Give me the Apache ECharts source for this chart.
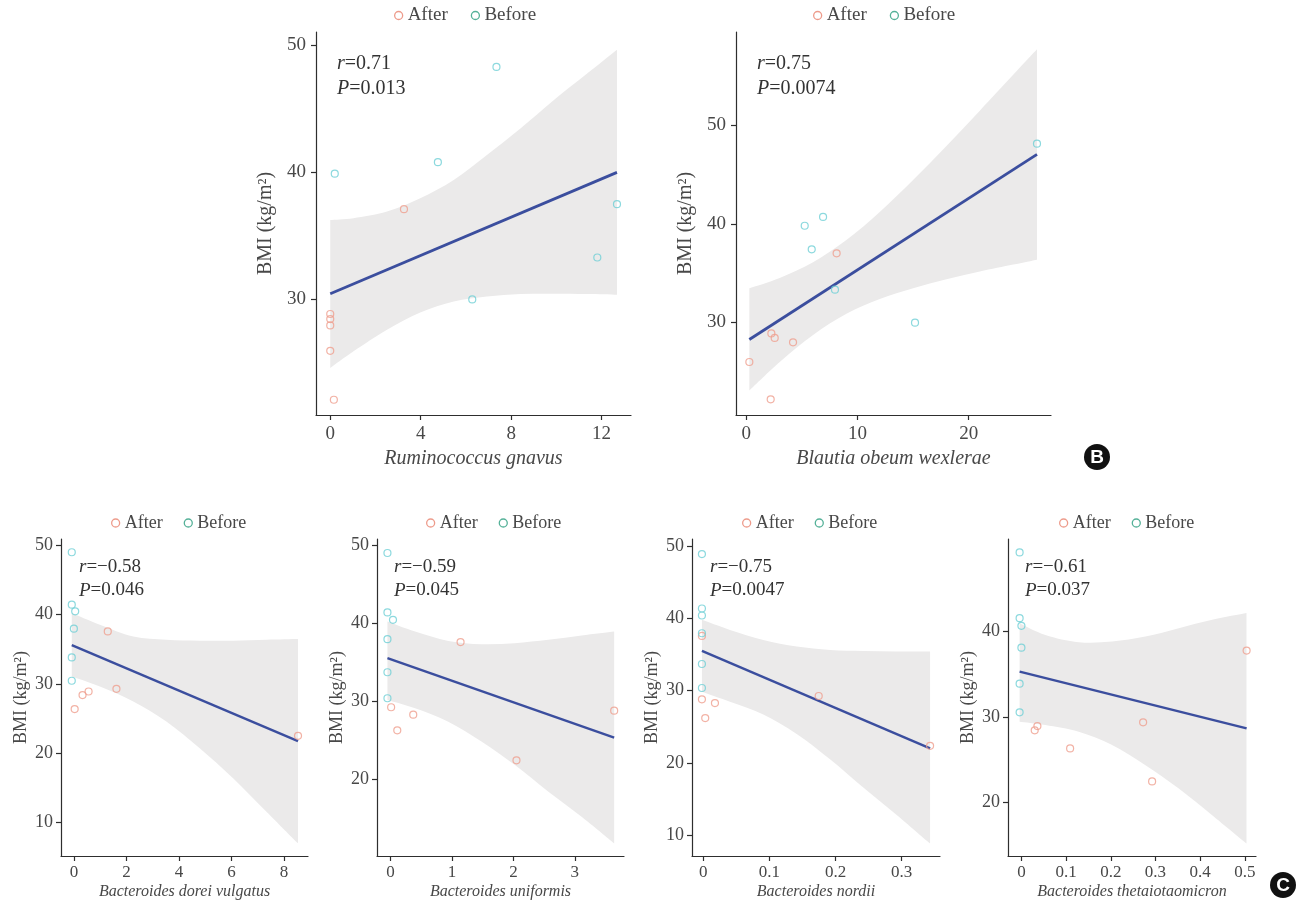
<!DOCTYPE html>
<html><head><meta charset="utf-8">
<script src="https://cdn.jsdelivr.net/npm/echarts@6/dist/echarts.min.js"></script>
<style>html,body{margin:0;padding:0;background:#fff}#c{width:1303px;height:908px}</style>
</head><body><div id="c"></div>
<script>
// ---------- DATA ----------
const legendNames = ['After', 'Before'];
const yTitle = 'BMI (kg/m²)';

// Panel A: Ruminococcus gnavus
const aXName = 'Ruminococcus gnavus';
const aR = '0.71', aP = '0.013';
const aXTicks = [0, 4, 8, 12];
const aYTicks = [30, 40, 50];
const aBeforeX = [7.35, 0.2, 4.76, 12.68, 11.81, 6.28];
const aBeforeY = [48.3, 39.9, 40.8, 37.5, 33.3, 30.0];
const aAfterX = [3.26, 0, 0, 0, 0, 0.16];
const aAfterY = [37.1, 28.85, 28.45, 27.95, 25.95, 22.1];
const aLineX = [0, 12.68];
const aLineY = [30.45, 40.0];
const aBandX = [0, 1.03, 2.51, 3.98, 5.46, 6.93, 8.41, 9.88, 11.36, 12.68];
const aBandUpper = [36.25, 36.39, 36.91, 37.96, 39.4, 41.36, 43.45, 45.68, 47.78, 49.66];
const aBandLower = [24.6, 25.91, 27.61, 28.97, 29.84, 30.23, 30.42, 30.45, 30.42, 30.36];

// Panel B: Blautia obeum wexlerae
const bXName = 'Blautia obeum wexlerae';
const bR = '0.75', bP = '0.0074';
const bXTicks = [0, 10, 20];
const bYTicks = [30, 40, 50];
const bBeforeX = [26.14, 6.9, 5.25, 5.88, 7.97, 15.17];
const bBeforeY = [48.15, 40.7, 39.8, 37.4, 33.3, 29.95];
const bAfterX = [8.12, 2.25, 2.55, 4.2, 0.27, 2.19];
const bAfterY = [37.0, 28.85, 28.4, 27.95, 25.95, 22.15];
const bLineX = [0.27, 26.14];
const bLineY = [28.24, 47.06];
const bBandX = [0.27, 3, 6, 9, 12, 15, 18, 21, 24, 26.14];
const bBandUpper = [33.45, 34.5, 36.1, 38.35, 41.2, 44.45, 47.9, 51.5, 55.15, 57.75];
const bBandLower = [23.05, 25.95, 28.7, 30.85, 32.35, 33.45, 34.35, 35.15, 35.85, 36.35];

// Panel C1: Bacteroides dorei vulgatus
const c1XName = 'Bacteroides dorei vulgatus';
const c1R = '−0.58', c1P = '0.046';
const c1XTicks = [0, 2, 4, 6, 8];
const c1YTicks = [10, 20, 30, 40, 50];
const c1BeforeX = [-0.08, -0.08, 0.05, 0, -0.08, -0.08];
const c1BeforeY = [48.99, 41.43, 40.46, 37.96, 33.82, 30.45];
const c1AfterX = [1.29, 1.62, 0.56, 0.33, 0.03, 8.53];
const c1AfterY = [37.57, 29.29, 28.9, 28.38, 26.36, 22.5];
const c1LineX = [-0.08, 8.53];
const c1LineY = [35.6, 21.73];
const c1BandX = [-0.08, 0.99, 2.26, 3.52, 4.79, 6.06, 7.33, 8.53];
const c1BandUpper = [40.23, 38.54, 36.85, 36.37, 36.23, 36.23, 36.37, 36.47];
const c1BandLower = [31.07, 29.62, 27.46, 24.57, 20.72, 16.39, 11.56, 7.0];

// Panel C2: Bacteroides uniformis
const c2XName = 'Bacteroides uniformis';
const c2R = '−0.59', c2P = '0.045';
const c2XTicks = [0, 1, 2, 3];
const c2YTicks = [20, 30, 40, 50];
const c2BeforeX = [-0.05, -0.05, 0.04, -0.05, -0.05, -0.05];
const c2BeforeY = [49.02, 41.38, 40.44, 37.95, 33.7, 30.36];
const c2AfterX = [1.14, 0.01, 0.37, 0.11, 2.05, 3.64];
const c2AfterY = [37.57, 29.2, 28.25, 26.24, 22.38, 28.76];
const c2LineX = [-0.05, 3.64];
const c2LineY = [35.5, 25.29];
const c2BandX = [-0.05, 0.40, 0.94, 1.48, 2.02, 2.57, 3.11, 3.64];
const c2BandUpper = [40.22, 38.93, 37.73, 37.31, 37.44, 37.86, 38.42, 38.93];
const c2BandLower = [30.14, 29.07, 27.35, 24.8, 21.8, 18.34, 15.12, 11.7];

// Panel C3: Bacteroides nordii
const c3XName = 'Bacteroides nordii';
const c3R = '−0.75', c3P = '0.0047';
const c3XTicks = [0, 0.1, 0.2, 0.3];
const c3YTicks = [10, 20, 30, 40, 50];
const c3BeforeX = [-0.002, -0.002, -0.002, -0.002, -0.002, -0.002];
const c3BeforeY = [48.87, 41.35, 40.38, 37.93, 33.68, 30.36];
const c3AfterX = [-0.002, 0.1746, -0.002, 0.0177, 0.003, 0.343];
const c3AfterY = [37.56, 29.25, 28.79, 28.28, 26.2, 22.37];
const c3LineX = [-0.002, 0.343];
const c3LineY = [35.48, 22.0];
const c3BandX = [-0.002, 0.0404, 0.0908, 0.1413, 0.1917, 0.242, 0.2926, 0.343];
const c3BandUpper = [39.78, 38.39, 37.0, 36.08, 35.62, 35.48, 35.42, 35.39];
const c3BandLower = [29.85, 28.46, 26.7, 24.0, 20.5, 16.6, 12.8, 8.85];

// Panel C4: Bacteroides thetaiotaomicron
const c4XName = 'Bacteroides thetaiotaomicron';
const c4R = '−0.61', c4P = '0.037';
const c4XTicks = [0, 0.1, 0.2, 0.3, 0.4, 0.5];
const c4YTicks = [20, 30, 40];
const c4BeforeX = [-0.004, -0.004, 0, 0, -0.004, -0.004];
const c4BeforeY = [49.26, 41.57, 40.67, 38.12, 33.9, 30.55];
const c4AfterX = [0.504, 0.2724, 0.0358, 0.0298, 0.109, 0.2925];
const c4AfterY = [37.77, 29.38, 28.94, 28.44, 26.33, 22.46];
const c4LineX = [-0.004, 0.504];
const c4LineY = [35.31, 28.68];
const c4BandX = [-0.004, 0.0537, 0.1283, 0.203, 0.2776, 0.3522, 0.4269, 0.5037];
const c4BandUpper = [40.98, 39.61, 38.76, 38.83, 39.41, 40.4, 41.37, 42.16];
const c4BandLower = [29.45, 29.06, 28.28, 26.72, 24.37, 21.64, 18.51, 15.2];

// ---------- STYLE / LAYOUT ----------
const SERIF = '"Liberation Serif", "Times New Roman", serif';
const COL_AFTER = '#EF9F8E', COL_BEFORE = '#6FD0D6';
const LEG_AFTER = '#E8826E', LEG_BEFORE = '#2A9D7E';
const BAND = '#ebeaea', LINE = '#3B4E9E';
const TXT = '#484848', AXC = '#2e2e2e';

const zip = (xs, ys) => xs.map((x, i) => [x, ys[i]]);

// smooth path through screen points (Catmull-Rom as cubic Bezier), drawing aid only
function smoothSeg(pts, start) {
  let d = start ? 'M' + pts[0][0] + ',' + pts[0][1] : 'L' + pts[0][0] + ',' + pts[0][1];
  for (let k = 0; k < pts.length - 1; k++) {
    const p0 = pts[Math.max(k - 1, 0)], p1 = pts[k], p2 = pts[k + 1], p3 = pts[Math.min(k + 2, pts.length - 1)];
    const c1 = [p1[0] + (p2[0] - p0[0]) / 6, p1[1] + (p2[1] - p0[1]) / 6];
    const c2 = [p2[0] - (p3[0] - p1[0]) / 6, p2[1] - (p3[1] - p1[1]) / 6];
    d += 'C' + c1[0] + ',' + c1[1] + ' ' + c2[0] + ',' + c2[1] + ' ' + p2[0] + ',' + p2[1];
  }
  return d;
}

const panels = [
  {grid:{left:316,top:32,width:315,height:383}, xMin:-0.63, xMax:13.3, yMin:20.9, yMax:51.05,
   xTicks:aXTicks, yTicks:aYTicks, xName:aXName, r:aR, p:aP, big:true,
   bx:aBeforeX, by:aBeforeY, ax:aAfterX, ay:aAfterY, lx:aLineX, ly:aLineY, bandX:aBandX, up:aBandUpper, lo:aBandLower,
   ann:[337, 63], leg:[394, 6]},
  {grid:{left:736,top:32,width:315,height:383}, xMin:-0.93, xMax:27.4, yMin:20.56, yMax:59.5,
   xTicks:bXTicks, yTicks:bYTicks, xName:bXName, r:bR, p:bP, big:true,
   bx:bBeforeX, by:bBeforeY, ax:bAfterX, ay:bAfterY, lx:bLineX, ly:bLineY, bandX:bBandX, up:bBandUpper, lo:bBandLower,
   ann:[757, 63], leg:[813, 6]},
  {grid:{left:61,top:539,width:247,height:317}, xMin:-0.49, xMax:8.91, yMin:5.17, yMax:50.9,
   xTicks:c1XTicks, yTicks:c1YTicks, xName:c1XName, r:c1R, p:c1P, big:false,
   bx:c1BeforeX, by:c1BeforeY, ax:c1AfterX, ay:c1AfterY, lx:c1LineX, ly:c1LineY, bandX:c1BandX, up:c1BandUpper, lo:c1BandLower,
   ann:[79, 566], leg:[111, 514]},
  {grid:{left:377,top:539,width:247,height:317}, xMin:-0.22, xMax:3.80, yMin:10.09, yMax:50.82,
   xTicks:c2XTicks, yTicks:c2YTicks, xName:c2XName, r:c2R, p:c2P, big:false,
   bx:c2BeforeX, by:c2BeforeY, ax:c2AfterX, ay:c2AfterY, lx:c2LineX, ly:c2LineY, bandX:c2BandX, up:c2BandUpper, lo:c2BandLower,
   ann:[394, 566], leg:[426, 514]},
  {grid:{left:692,top:539,width:248,height:317}, xMin:-0.017, xMax:0.358, yMin:7.13, yMax:50.96,
   xTicks:c3XTicks, yTicks:c3YTicks, xName:c3XName, r:c3R, p:c3P, big:false,
   bx:c3BeforeX, by:c3BeforeY, ax:c3AfterX, ay:c3AfterY, lx:c3LineX, ly:c3LineY, bandX:c3BandX, up:c3BandUpper, lo:c3BandLower,
   ann:[710, 566], leg:[742, 514]},
  {grid:{left:1008,top:539,width:248,height:317}, xMin:-0.03, xMax:0.525, yMin:13.74, yMax:50.83,
   xTicks:c4XTicks, yTicks:c4YTicks, xName:c4XName, r:c4R, p:c4P, big:false,
   bx:c4BeforeX, by:c4BeforeY, ax:c4AfterX, ay:c4AfterY, lx:c4LineX, ly:c4LineY, bandX:c4BandX, up:c4BandUpper, lo:c4BandLower,
   ann:[1025, 566], leg:[1059, 514]}
];

const grids = [], xAxes = [], yAxes = [], series = [], legends = [], graphics = [];

panels.forEach((p, i) => {
  const big = p.big;
  grids.push(Object.assign({containLabel:false}, p.grid));
  xAxes.push({
    type:'value', gridIndex:i, min:p.xMin, max:p.xMax,
    axisLine:{show:true, onZero:false, lineStyle:{color:AXC, width:1.2}},
    axisTick:{show:true, length:5, customValues:p.xTicks, lineStyle:{color:AXC, width:1.2}},
    axisLabel:{customValues:p.xTicks, margin:big ? 10 : 8, fontFamily:SERIF, fontSize:big ? 19 : 17, color:TXT,
               formatter:v => String(v)},
    splitLine:{show:false},
    name:p.xName, nameLocation:'middle', nameGap:big ? 34 : 28,
    nameTextStyle:{fontFamily:SERIF, fontStyle:'italic', fontSize:big ? 20 : 16, color:TXT}
  });
  yAxes.push({
    type:'value', gridIndex:i, min:p.yMin, max:p.yMax,
    axisLine:{show:true, onZero:false, lineStyle:{color:AXC, width:1.2}},
    axisTick:{show:true, length:5, customValues:p.yTicks, lineStyle:{color:AXC, width:1.2}},
    axisLabel:{customValues:p.yTicks, margin:big ? 10 : 8, fontFamily:SERIF, fontSize:big ? 19 : 18, color:TXT},
    splitLine:{show:false},
    name:yTitle, nameLocation:'middle', nameGap:big ? 40 : 31,
    nameTextStyle:{fontFamily:SERIF, fontSize:big ? 20 : 18, color:TXT}
  });
  const bx = p.bandX, up = p.up, lo = p.lo;
  series.push({
    type:'custom', coordinateSystem:'cartesian2d', xAxisIndex:i, yAxisIndex:i, silent:true, z:1,
    data:[[bx[0], up[0]]],
    renderItem:function(params, api){
      const upPts = bx.map((x, k) => api.coord([x, up[k]]));
      const loPts = bx.map((x, k) => api.coord([x, lo[k]])).reverse();
      const d = smoothSeg(upPts, true) + smoothSeg(loPts, false) + 'Z';
      return {type:'path', shape:{pathData:d}, style:{fill:BAND}};
    }
  });
  series.push({
    type:'line', xAxisIndex:i, yAxisIndex:i, data:zip(p.lx, p.ly), symbol:'none', silent:true, z:3,
    lineStyle:{color:LINE, width:big ? 2.8 : 2.4}
  });
  series.push({
    type:'scatter', name:'After', xAxisIndex:i, yAxisIndex:i, data:zip(p.ax, p.ay), symbol:'circle', symbolSize:7, z:4, silent:true,
    itemStyle:{color:'rgba(255,255,255,0)', borderColor:COL_AFTER, borderWidth:1.2}
  });
  series.push({
    type:'scatter', name:'Before', xAxisIndex:i, yAxisIndex:i, data:zip(p.bx, p.by), symbol:'circle', symbolSize:7, z:4, silent:true,
    itemStyle:{color:'rgba(255,255,255,0)', borderColor:COL_BEFORE, borderWidth:1.2}
  });
  legends.push({
    left:p.leg[0], top:p.leg[1], padding:0, selectedMode:false, orient:'horizontal',
    itemWidth:8, itemHeight:8, itemGap:big ? 23 : 21,
    data:[
      {name:legendNames[0], icon:'circle', itemStyle:{color:'rgba(255,255,255,0)', borderColor:LEG_AFTER, borderWidth:1.3}},
      {name:legendNames[1], icon:'circle', itemStyle:{color:'rgba(255,255,255,0)', borderColor:LEG_BEFORE, borderWidth:1.3}}
    ],
    textStyle:{fontFamily:SERIF, fontSize:big ? 19 : 18, color:TXT, padding:[0,0,0,0]}
  });
  const fs = big ? 20 : 19;
  const rich = {i:{fontStyle:'italic', fontFamily:SERIF, fontSize:fs, fill:'#333'}, n:{fontFamily:SERIF, fontSize:fs, fill:'#333'}};
  graphics.push({type:'text', x:p.ann[0], y:p.ann[1] + 1, silent:true,
    style:{text:'{i|r}{n|=' + p.r + '}', rich:rich, fontFamily:SERIF, fontSize:fs, fill:'#333', verticalAlign:'middle'}});
  graphics.push({type:'text', x:p.ann[0], y:p.ann[1] + (big ? 26 : 24.5), silent:true,
    style:{text:'{i|P}{n|=' + p.p + '}', rich:rich, fontFamily:SERIF, fontSize:fs, fill:'#333', verticalAlign:'middle'}});
});

// panel badges
[['B', 1097, 457], ['C', 1283, 885]].forEach(b => {
  graphics.push({type:'circle', shape:{cx:b[1], cy:b[2], r:13}, style:{fill:'#111'}, silent:true});
  graphics.push({type:'text', x:b[1], y:b[2] + 1, silent:true,
    style:{text:b[0], fill:'#fff', fontFamily:'"Liberation Sans", Arial, sans-serif', fontWeight:'bold', fontSize:19, align:'center', verticalAlign:'middle'}});
});

const chart = echarts.init(document.getElementById('c'), null, {renderer:'canvas'});
chart.setOption({
  backgroundColor:'#ffffff',
  animation:false,
  grid:grids, xAxis:xAxes, yAxis:yAxes, series:series, legend:legends,
  graphic:{elements:graphics}
});
</script></body></html>
